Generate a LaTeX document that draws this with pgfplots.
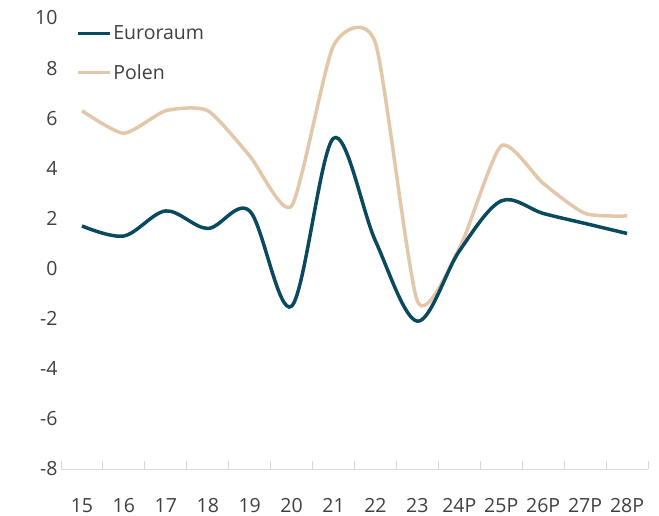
\documentclass[border=0pt]{standalone}
\usepackage{fontspec}
\setmainfont{Open Sans}
\usepackage{pgfplots}
\pgfplotsset{compat=1.18}
\definecolor{euro}{HTML}{0B4A5E}
\definecolor{polen}{HTML}{E3C7AB}
\definecolor{txt}{HTML}{404040}
\definecolor{axg}{HTML}{D9D9D9}
\begin{document}
\begin{tikzpicture}
\useasboundingbox (-61bp,-47bp) rectangle (598bp,469bp);
\begin{axis}[at={(0,0)}, anchor=south west, scale only axis,
  width=587bp, height=451bp,
  xmin=-0.5, xmax=13.5, ymin=-8, ymax=10,
  axis x line*=bottom, axis y line*=left,
  x axis line style={draw=axg, line width=1bp, -},
  y axis line style={draw=none},
  xtick={-0.5,0.5,...,13.5}, x tick label as interval,
  xticklabels={15,16,17,18,19,20,21,22,23,24P,25P,26P,27P,28P},
  xtick style={draw=axg, line width=1bp},
  xtick align=inside, major tick length=8bp,
  ytick={-8,-6,...,10},
  yticklabels={-8,-6,-4,-2,0,2,4,6,8,10},
  ytick style={draw=none},
  tick label style={font=\fontsize{19.5bp}{23bp}\selectfont, text=txt},
  xticklabel style={yshift=-26bp},
  reverse legend,
  legend style={draw=none, fill=none, at={(rel axis cs:0.025,0.985)}, anchor=north west,
    font=\fontsize{19.5bp}{23bp}\selectfont, text=txt, row sep=21bp, inner sep=0pt,
    nodes={inner xsep=2bp, inner ysep=1bp}},
  legend cell align=left,
  legend image code/.code={\draw[#1,line width=3.5bp] (0bp,0bp) -- (32bp,0bp);},
]
\addplot[polen, line width=3.5bp, smooth, tension=0.38] coordinates {
(0,6.3) (1,5.4) (2,6.3) (3,6.3) (4,4.5) (5,2.5) (6,8.9) (7,9.0) (8,-1.3) (9,0.8) (10,4.9) (11,3.4) (12,2.2) (13,2.1)};
\addlegendentry{Polen}
\addplot[euro, line width=3.5bp, smooth, tension=0.55] coordinates {
(0,1.7) (1,1.3) (2,2.3) (3,1.6) (4,2.3) (5,-1.5) (6,5.2) (7,1.1) (8,-2.1) (9,0.7) (10,2.7) (11,2.2) (12,1.8) (13,1.4)};
\addlegendentry{Euroraum}
\end{axis}
\end{tikzpicture}
\end{document}
